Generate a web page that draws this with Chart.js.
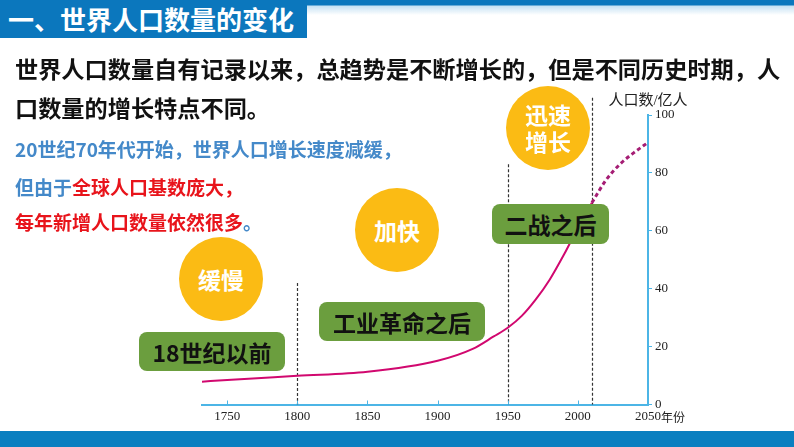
<!DOCTYPE html>
<html>
<head>
<meta charset="utf-8">
<script src="https://cdn.jsdelivr.net/npm/chart.js@4.4.1/dist/chart.umd.min.js"></script>
<style>
body { margin: 0; width: 794px; height: 447px; position: relative; overflow: hidden; background: #fff; font-family: "Noto Sans CJK SC", sans-serif; }
#chart { position: absolute; left: 0; top: 0; }
.topbar { position: absolute; left: 0; top: 0; width: 307px; height: 38px; background: #0b77bd; color: #fff; font-weight: bold; font-size: 26px; line-height: 38px; padding-left: 8px; box-sizing: border-box; white-space: nowrap; }
.topline { position: absolute; left: 307px; top: 0; width: 487px; height: 15px; background: linear-gradient(#0b77bd 0, #0b77bd 5px, rgba(90,170,220,0.35) 6px, rgba(255,255,255,0) 15px); }
.bottombar { position: absolute; left: 0; top: 431px; width: 794px; height: 16px; background: #0a7fc0; }
.line { position: absolute; left: 15px; white-space: nowrap; font-weight: bold; }
.big { font-size: 23.2px; line-height: 32px; color: #111; }
.small { font-size: 19px; line-height: 30px; color: #4489c9; }
.red { color: #e8141b; }
.circle { position: absolute; width: 84px; height: 84px; border-radius: 50%; background: #fbbb14; color: #fff; font-weight: bold; font-size: 23px; line-height: 27px; display: flex; align-items: center; justify-content: center; text-align: center; z-index: 2; }
.box { position: absolute; height: 39px; border-radius: 8px; background: #6b9e3e; color: #111; font-weight: bold; font-size: 23px; display: flex; align-items: center; justify-content: center; white-space: nowrap; z-index: 2; }
</style>
</head>
<body>
<canvas id="chart" width="794" height="447"></canvas>
<div class="topbar">一、世界人口数量的变化</div>
<div class="topline"></div>
<div class="bottombar"></div>

<div class="line big" style="top:52px">世界人口数量自有记录以来，总趋势是不断增长的，但是不同历史时期，人</div>
<div class="line big" style="top:91px">口数量的增长特点不同。</div>
<div class="line small" style="top:134px">20世纪70年代开始，世界人口增长速度减缓，</div>
<div class="line small" style="top:172px">但由于<span class="red">全球人口基数庞大，</span></div>
<div class="line small" style="top:207px"><span class="red">每年新增人口数量依然很多</span>。</div>

<div class="circle" style="left:179px;top:237px">缓慢</div>
<div class="circle" style="left:355px;top:188px">加快</div>
<div class="circle" style="left:506px;top:86px">迅速<br>增长</div>

<div class="box" style="left:139px;top:332px;width:146px">18世纪以前</div>
<div class="box" style="left:319px;top:302px;width:166px">工业革命之后</div>
<div class="box" style="left:492px;top:204px;width:117px;height:40px">二战之后</div>

<script>
var years = [1732, 1750, 1800, 1850, 1900, 1925, 1940, 1950, 1960, 1970, 1980, 1990, 2000, 2010];
var population = [7.9, 8.5, 9.9, 11.3, 15.1, 19.2, 23.5, 26.5, 30.6, 36.3, 43.2, 51.7, 61, 69.7];
var futureYears = [2010, 2020, 2030, 2040, 2050];
var futurePopulation = [69.7, 77.5, 83, 87, 90.5];
var tickYears = [1750, 1800, 1850, 1900, 1950, 2000, 2050];
var tickPopulation = [0, 20, 40, 60, 80, 100];
var dividerYears = [1800, 1950, 2010];
var dividerTops = [42, 83, 106];

var axisBlue = '#4cb5e6';

var extras = {
    id: 'extras',
    beforeDatasetsDraw: function (chart) {
        var ctx = chart.ctx;
        var x = chart.scales.x;
        var y = chart.scales.y;
        ctx.save();
        // dashed period dividers
        ctx.strokeStyle = '#333';
        ctx.lineWidth = 1.2;
        ctx.setLineDash([3, 2]);
        dividerYears.forEach(function (yr, i) {
            var px = Math.round(x.getPixelForValue(yr)) + 0.5;
            ctx.beginPath();
            ctx.moveTo(px, y.getPixelForValue(dividerTops[i]));
            ctx.lineTo(px, y.getPixelForValue(0));
            ctx.stroke();
        });
        ctx.setLineDash([]);
        // small inward ticks on the year axis
        ctx.strokeStyle = axisBlue;
        ctx.lineWidth = 1;
        tickYears.forEach(function (yr) {
            var px = Math.round(x.getPixelForValue(yr)) + 0.5;
            ctx.beginPath();
            ctx.moveTo(px, y.bottom);
            ctx.lineTo(px, y.bottom - 4);
            ctx.stroke();
        });
        // axis captions
        ctx.fillStyle = '#222';
        ctx.textBaseline = 'middle';
        ctx.textAlign = 'center';
        ctx.font = '15px "Liberation Serif", "Noto Sans CJK SC"';
        ctx.fillText('人口数/亿人', chart.chartArea.right, 101);
        ctx.textAlign = 'left';
        ctx.font = '12px "Noto Sans CJK SC"';
        ctx.fillText('年份', x.getPixelForValue(2050) + 13, 417);
        ctx.restore();
    }
};

var chart = new Chart(document.getElementById('chart'), {
    type: 'line',
    data: {
        datasets: [
            {
                data: years.map(function (yr, i) { return { x: yr, y: population[i] }; }),
                borderColor: '#d1086f',
                borderWidth: 2,
                pointRadius: 0,
                cubicInterpolationMode: 'monotone'
            },
            {
                data: futureYears.map(function (yr, i) { return { x: yr, y: futurePopulation[i] }; }),
                borderColor: '#a51d74',
                borderWidth: 3,
                borderDash: [4, 3],
                pointRadius: 0,
                cubicInterpolationMode: 'monotone'
            }
        ]
    },
    options: {
        responsive: false,
        animation: false,
        layout: { padding: { left: 202, top: 115, right: 0, bottom: 0 } },
        plugins: { legend: { display: false }, tooltip: { enabled: false } },
        scales: {
            x: {
                type: 'linear',
                min: 1732,
                max: 2050,
                afterBuildTicks: function (s) { s.ticks = tickYears.map(function (v) { return { value: v }; }); },
                afterFit: function (s) { s.height = 42.5; },
                border: { color: axisBlue, width: 2 },
                grid: { display: false, drawTicks: false },
                ticks: {
                    color: '#222',
                    padding: 4,
                    maxRotation: 0,
                    font: { family: 'Liberation Serif', size: 13 },
                    callback: function (v) { return '' + v; }
                }
            },
            y: {
                position: 'right',
                min: 0,
                max: 100,
                afterBuildTicks: function (s) { s.ticks = tickPopulation.map(function (v) { return { value: v }; }); },
                afterFit: function (s) { s.width = 146; },
                border: { color: axisBlue, width: 2 },
                grid: { drawOnChartArea: false, tickLength: 4, color: axisBlue },
                ticks: {
                    color: '#222',
                    padding: 3,
                    font: { family: 'Liberation Serif', size: 13 }
                }
            }
        }
    },
    plugins: [extras]
});
</script>
</body>
</html>
